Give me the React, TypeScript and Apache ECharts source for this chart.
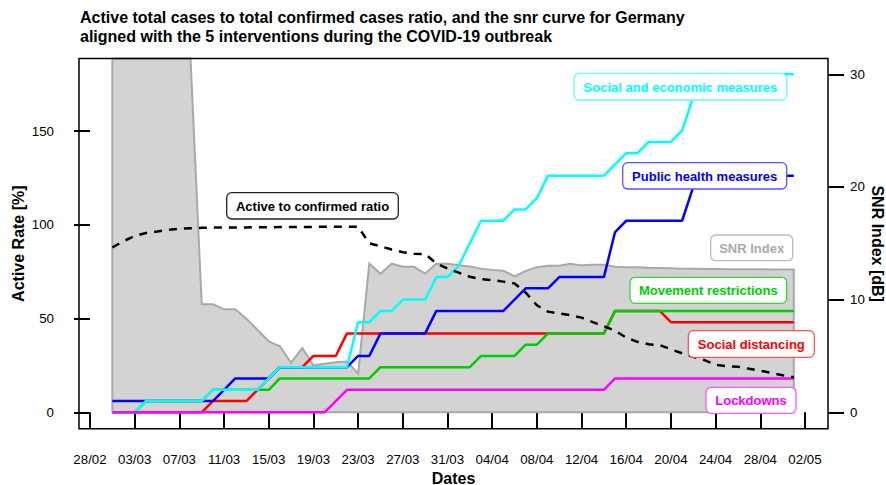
import React, { useEffect, useRef } from "react";
import * as echarts from "echarts";

// Day offsets are counted from 28/02/2020; the data start on 01/03 (offset 2).
const firstDay = 2;
const xTickLabels = [
  "28/02", "03/03", "07/03", "11/03", "15/03", "19/03", "23/03", "27/03", "31/03",
  "04/04", "08/04", "12/04", "16/04", "20/04", "24/04", "28/04", "02/05",
];
const xTickStep = 4;
const leftTicks = [0, 50, 100, 150];
const rightTicks = [0, 10, 20, 30];

// Active to confirmed ratio [%] (left axis), 01/03 .. 01/05
const activeRatio = [
  87.9, 91.3, 94.0, 95.6, 96.4, 97.3, 97.9, 98.2, 98.4, 98.5, 98.5, 98.6, 98.6, 98.7, 98.7, 98.8,
  98.8, 98.8, 98.9, 98.9, 98.9, 99.0, 99.0, 90.1, 88.6, 86.8, 85.4, 84.6, 84.4, 79.4, 76.7, 74.5,
  72.3, 71.0, 70.5, 69.7, 68.7, 63.8, 57.1, 53.7, 52.7, 51.8, 50.5, 48.1, 45.9, 43.5, 39.8, 37.6,
  36.3, 35.8, 33.6, 31.5, 29.6, 27.8, 25.3, 24.6, 24.3, 23.2, 22.2, 21.0, 19.8, 18.7,
];

// SNR index [dB] (right axis)
const snrIndex = [
  40, 40, 40, 40, 40, 40, 40, 32, 9.58, 9.58, 9.14, 9.14, 8.3, 7.3, 6.3, 5.86,
  4.4, 5.7, 4.17, 4.3, 4.44, 4.5, 3.43, 13.19, 12.29, 13.19, 12.91, 12.91, 12.31, 13.19, 13.19, 13.06,
  12.95, 12.75, 12.64, 12.56, 12.07, 12.54, 12.88, 13.0, 13.0, 13.18, 13.04, 13.09, 13.09, 12.91, 12.88, 12.87,
  12.82, 12.8, 12.78, 12.75, 12.73, 12.72, 12.72, 12.7, 12.7, 12.69, 12.69, 12.68, 12.68, 12.67,
];

// Cumulative number of interventions (right axis)
const socialEconomic = [
  0, 0, 0, 1, 1, 1, 1, 1, 1, 2, 2, 2, 2, 2, 3, 4,
  4, 4, 4, 4, 4, 4, 8, 8, 9, 9, 10, 10, 10, 12, 12, 13,
  15, 17, 17, 17, 18, 18, 19, 21, 21, 21, 21, 21, 21, 22, 23, 23,
  24, 24, 24, 25, 28, 30, 30, 30, 30, 30, 30, 30, 30, 30,
];
const publicHealth = [
  1, 1, 1, 1, 1, 1, 1, 1, 1, 1, 2, 3, 3, 3, 3, 4,
  4, 4, 4, 4, 4, 4, 5, 5, 7, 7, 7, 7, 7, 9, 9, 9,
  9, 9, 9, 9, 10, 11, 11, 11, 12, 12, 12, 12, 12, 16, 17, 17,
  17, 17, 17, 17, 20, 21, 21, 21, 21, 21, 21, 21, 21, 21,
];
const movementRestrictions = [
  0, 0, 0, 1, 1, 1, 1, 1, 1, 2, 2, 2, 2, 2, 2, 3,
  3, 3, 3, 3, 3, 3, 3, 3, 4, 4, 4, 4, 4, 4, 4, 4,
  4, 5, 5, 5, 5, 6, 6, 7, 7, 7, 7, 7, 7, 9, 9, 9,
  9, 9, 9, 9, 9, 9, 9, 9, 9, 9, 9, 9, 9, 9,
];
const socialDistancing = [
  0, 0, 0, 0, 0, 0, 0, 0, 0, 1, 1, 1, 1, 2, 3, 4,
  4, 4, 5, 5, 5, 7, 7, 7, 7, 7, 7, 7, 7, 7, 7, 7,
  7, 7, 7, 7, 7, 7, 7, 7, 7, 7, 7, 7, 7, 9, 9, 9,
  9, 9, 8, 8, 8, 8, 8, 8, 8, 8, 8, 8, 8, 8,
];
const lockdowns = [
  0, 0, 0, 0, 0, 0, 0, 0, 0, 0, 0, 0, 0, 0, 0, 0,
  0, 0, 0, 0, 1, 2, 2, 2, 2, 2, 2, 2, 2, 2, 2, 2,
  2, 2, 2, 2, 2, 2, 2, 2, 2, 2, 2, 2, 2, 3, 3, 3,
  3, 3, 3, 3, 3, 3, 3, 3, 3, 3, 3, 3, 3, 3,
];

const FONT = '"Liberation Sans", Arial, Helvetica, sans-serif';

const toPairs = (vals: number[]) => vals.map((v, i) => [firstDay + i, v]);

type Label = { text: string; color: string; stroke: string; x: number; y: number; w: number; h: number };
const labels: Label[] = [
  { text: "Active to confirmed ratio", color: "#000000", stroke: "#222222", x: 226.7, y: 192.7, w: 171.6, h: 26.3 },
  { text: "Social and economic measures", color: "#00FFFF", stroke: "#66FFFF", x: 574, y: 73.3, w: 212.7, h: 26.7 },
  { text: "Public health measures", color: "#0000FF", stroke: "#5555FF", x: 622.7, y: 162.7, w: 164, h: 26.3 },
  { text: "SNR Index", color: "#A9A9A9", stroke: "#BBBBBB", x: 710.7, y: 235, w: 82, h: 25.7 },
  { text: "Movement restrictions", color: "#00CD00", stroke: "#33D633", x: 630, y: 277.3, w: 156.7, h: 26 },
  { text: "Social distancing", color: "#FF0000", stroke: "#FF5555", x: 688.3, y: 330.7, w: 126, h: 26.6 },
  { text: "Lockdowns", color: "#FF00FF", stroke: "#FF55FF", x: 706, y: 387.3, w: 90, h: 26 },
];

export default function App() {
  const ref = useRef<HTMLDivElement>(null);

  useEffect(() => {
    document.body.style.margin = "0";
    if (!ref.current) return;
    const chart = echarts.init(ref.current, null, { renderer: "svg" });

    const gridLeft = 79;
    const gridTop = 58.5;
    const gridRight = 828;
    const gridBottom = 428.8;

    const xTickValues = xTickLabels.map((_, i) => i * xTickStep);

    const lineSeries = (name: string, vals: number[], color: string) => ({
      name,
      type: "line",
      yAxisIndex: 1,
      data: toPairs(vals),
      showSymbol: false,
      symbol: "none",
      lineStyle: { color, width: 2.5 },
      silent: true,
    });

    const graphics: any[] = [];
    // frame box (drawn above the SNR polygon like R's box())
    graphics.push({
      type: "rect",
      z: 90,
      shape: { x: gridLeft, y: gridTop, width: gridRight - gridLeft, height: gridBottom - gridTop },
      style: { fill: "none", stroke: "#000", lineWidth: 1.5 },
    });
    labels.forEach((l) => {
      graphics.push({
        type: "rect",
        z: 100,
        shape: { x: l.x, y: l.y, width: l.w, height: l.h, r: 5 },
        style: { fill: "#FFFFFF", stroke: l.stroke, lineWidth: 1.3 },
      });
      graphics.push({
        type: "text",
        z: 101,
        x: l.x + l.w / 2,
        y: l.y + l.h / 2 + 0.5,
        style: {
          text: l.text,
          fill: l.color,
          font: `bold 13px ${FONT}`,
          align: "center",
          verticalAlign: "middle",
          textAlign: "center",
          textVerticalAlign: "middle",
        },
      });
    });
    const axisName = (text: string, x: number, y: number, rotation: number) => ({
      type: "text",
      z: 100,
      x,
      y,
      rotation,
      style: {
        text,
        fill: "#000",
        font: `bold 16px ${FONT}`,
        align: "center",
        verticalAlign: "middle",
        textAlign: "center",
        textVerticalAlign: "middle",
      },
    });
    graphics.push(axisName("Active Rate [%]", 18, (gridTop + gridBottom) / 2, Math.PI / 2));
    graphics.push(axisName("SNR Index [dB]", 877, (gridTop + gridBottom) / 2, -Math.PI / 2));
    graphics.push(axisName("Dates", (gridLeft + gridRight) / 2, 478, 0));

    const tickStyle = { length: 16, lineStyle: { color: "#000", width: 2 } };
    const labelStyle = { color: "#000", fontSize: 13.3, fontFamily: FONT };

    chart.setOption({
      animation: false,
      backgroundColor: "#FFFFFF",
      title: {
        text:
          "Active total cases to total confirmed cases ratio, and the snr curve for Germany\naligned with the 5 interventions during the COVID-19 outbreak",
        left: 80,
        top: 8,
        padding: 0,
        textStyle: { fontSize: 16, fontWeight: "bold", lineHeight: 19, fontFamily: FONT, color: "#000" },
      },
      grid: {
        left: gridLeft,
        top: gridTop,
        right: 886 - gridRight,
        bottom: 485 - gridBottom,
        show: false,
      },
      xAxis: {
        type: "value",
        min: -0.985,
        max: 66.06,
        axisLine: { show: false },
        splitLine: { show: false },
        axisTick: { show: true, customValues: xTickValues, ...tickStyle },
        axisLabel: {
          ...labelStyle,
          customValues: xTickValues,
          margin: 24,
          formatter: (v: number) => xTickLabels[Math.round(v / xTickStep)] ?? "",
        },
      },
      yAxis: [
        {
          type: "value",
          position: "left",
          min: -8.8,
          max: 188.7,
          axisLine: { show: false },
          splitLine: { show: false },
          axisTick: { show: true, customValues: leftTicks, ...tickStyle },
          axisLabel: { ...labelStyle, customValues: leftTicks, margin: 25 },
        },
        {
          type: "value",
          position: "right",
          min: -1.465,
          max: 31.4,
          axisLine: { show: false },
          splitLine: { show: false },
          axisTick: { show: true, customValues: rightTicks, ...tickStyle },
          axisLabel: { ...labelStyle, customValues: rightTicks, margin: 22 },
        },
      ],
      series: [
        {
          name: "SNR Index",
          type: "custom",
          yAxisIndex: 1,
          silent: true,
          data: [[firstDay, 0]],
          renderItem: (params: any, api: any) => {
            const pts: number[][] = [api.coord([firstDay, 0])];
            snrIndex.forEach((v, i) => pts.push(api.coord([firstDay + i, v])));
            pts.push(api.coord([firstDay + snrIndex.length - 1, 0]));
            const cs = params.coordSys;
            const clipped = echarts.graphic.clipPointsByRect(pts, {
              x: cs.x,
              y: cs.y,
              width: cs.width,
              height: cs.height,
            } as any);
            return {
              type: "polygon",
              shape: { points: clipped },
              style: { fill: "#D3D3D3", stroke: "#A9A9A9", lineWidth: 2 },
            };
          },
        },
        lineSeries("Social distancing", socialDistancing, "#FF0000"),
        lineSeries("Public health measures", publicHealth, "#0000FF"),
        lineSeries("Movement restrictions", movementRestrictions, "#00CD00"),
        lineSeries("Social and economic measures", socialEconomic, "#00FFFF"),
        lineSeries("Lockdowns", lockdowns, "#FF00FF"),
        {
          name: "Active to confirmed ratio",
          type: "line",
          yAxisIndex: 0,
          data: toPairs(activeRatio),
          showSymbol: false,
          symbol: "none",
          silent: true,
          lineStyle: { color: "#000", width: 2.5, type: [8, 7] },
        },
      ],
      graphic: graphics,
    });

    return () => chart.dispose();
  }, []);

  return <div ref={ref} style={{ width: 886, height: 485 }} />;
}
